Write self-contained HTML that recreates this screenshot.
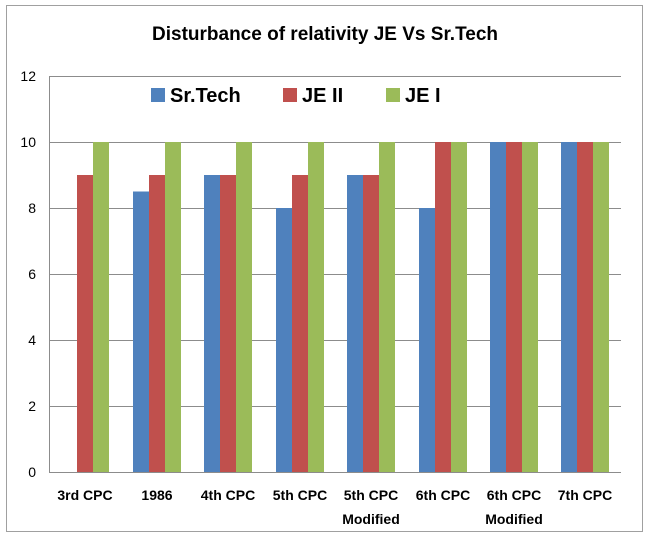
<!DOCTYPE html>
<html><head><style>body{margin:0;background:#fff}svg{display:block}</style></head>
<body>
<svg width="650" height="536" xmlns="http://www.w3.org/2000/svg" font-family="Liberation Sans, sans-serif">
<rect x="0" y="0" width="650" height="536" fill="#fff"/>
<rect x="6.5" y="5.5" width="636" height="526" fill="#fff" stroke="#a0a0a0"/>
<text x="325" y="40" text-anchor="middle" font-size="19" font-weight="bold" fill="#000">Disturbance of relativity JE Vs Sr.Tech</text>
<g stroke="#8c8c8c" stroke-width="1">
<line x1="49" y1="76.5" x2="621" y2="76.5"/>
<line x1="49" y1="142.5" x2="621" y2="142.5"/>
<line x1="49" y1="208.5" x2="621" y2="208.5"/>
<line x1="49" y1="274.5" x2="621" y2="274.5"/>
<line x1="49" y1="340.5" x2="621" y2="340.5"/>
<line x1="49" y1="406.5" x2="621" y2="406.5"/>
<line x1="49" y1="472.5" x2="621" y2="472.5"/>
<line x1="49.5" y1="76" x2="49.5" y2="472"/>
</g>
<g font-size="14" fill="#000" text-anchor="end">
<text x="36" y="81">12</text><text x="36" y="147">10</text><text x="36" y="213">8</text>
<text x="36" y="279">6</text><text x="36" y="345">4</text><text x="36" y="411">2</text><text x="36" y="477">0</text>
</g>
<g>
<!-- cat i center = 49+71.5*(i+0.5); blue cx-24, red cx-8, green cx+8; scale 33/unit -->
<rect x="77" y="175" width="16" height="297" fill="#c0504d"/>
<rect x="93" y="142" width="16" height="330" fill="#9bbb59"/>

<rect x="133" y="191.5" width="16" height="280.5" fill="#4f81bd"/>
<rect x="149" y="175" width="16" height="297" fill="#c0504d"/>
<rect x="165" y="142" width="16" height="330" fill="#9bbb59"/>

<rect x="204" y="175" width="16" height="297" fill="#4f81bd"/>
<rect x="220" y="175" width="16" height="297" fill="#c0504d"/>
<rect x="236" y="142" width="16" height="330" fill="#9bbb59"/>

<rect x="276" y="208" width="16" height="264" fill="#4f81bd"/>
<rect x="292" y="175" width="16" height="297" fill="#c0504d"/>
<rect x="308" y="142" width="16" height="330" fill="#9bbb59"/>

<rect x="347" y="175" width="16" height="297" fill="#4f81bd"/>
<rect x="363" y="175" width="16" height="297" fill="#c0504d"/>
<rect x="379" y="142" width="16" height="330" fill="#9bbb59"/>

<rect x="419" y="208" width="16" height="264" fill="#4f81bd"/>
<rect x="435" y="142" width="16" height="330" fill="#c0504d"/>
<rect x="451" y="142" width="16" height="330" fill="#9bbb59"/>

<rect x="490" y="142" width="16" height="330" fill="#4f81bd"/>
<rect x="506" y="142" width="16" height="330" fill="#c0504d"/>
<rect x="522" y="142" width="16" height="330" fill="#9bbb59"/>

<rect x="561" y="142" width="16" height="330" fill="#4f81bd"/>
<rect x="577" y="142" width="16" height="330" fill="#c0504d"/>
<rect x="593" y="142" width="16" height="330" fill="#9bbb59"/>
</g>
<g font-size="14" font-weight="bold" fill="#000" text-anchor="middle">
<text x="85" y="500">3rd CPC</text>
<text x="157" y="500">1986</text>
<text x="228" y="500">4th CPC</text>
<text x="300" y="500">5th CPC</text>
<text x="371" y="500">5th CPC</text><text x="371" y="524">Modified</text>
<text x="443" y="500">6th CPC</text>
<text x="514" y="500">6th CPC</text><text x="514" y="524">Modified</text>
<text x="585" y="500">7th CPC</text>
</g>
<g font-size="20" font-weight="bold" fill="#000">
<rect x="151" y="88" width="14" height="14" fill="#4f81bd"/><text x="170" y="102">Sr.Tech</text>
<rect x="283" y="88" width="14" height="14" fill="#c0504d"/><text x="302" y="102">JE II</text>
<rect x="386" y="88" width="14" height="14" fill="#9bbb59"/><text x="405" y="102">JE I</text>
</g>
</svg>
</body></html>
